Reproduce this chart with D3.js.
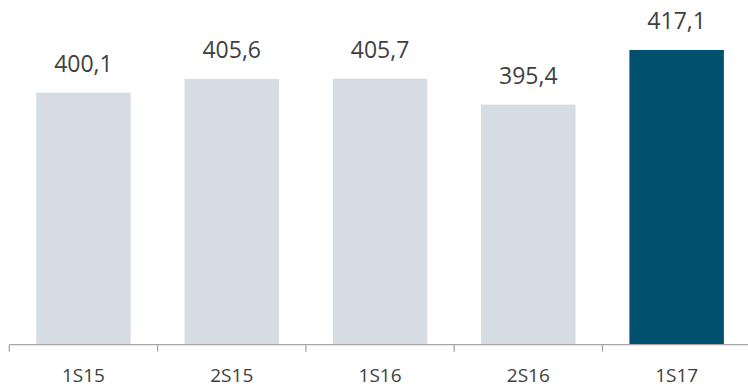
<!DOCTYPE html>
<html>
<head>
<meta charset="utf-8">
<script src="https://cdn.jsdelivr.net/npm/d3@7/dist/d3.min.js"></script>
<style>
  html, body { margin: 0; padding: 0; background: #fff; }
  svg { display: block; }
  text { font-family: "Open Sans", Lato, sans-serif; fill: #404040; }
</style>
</head>
<body>
<svg id="chart" width="748" height="387"></svg>
<script>
// Semester periods and their values
const periods = ["1S15", "2S15", "1S16", "2S16", "1S17"];
const values = [400.1, 405.6, 405.7, 395.4, 417.1];
const highlight = ["1S17"];

const width = 748, height = 387;
const baseY = 344.7;
const svg = d3.select("#chart");

const x = d3.scaleBand()
  .domain(periods)
  .range([9.3, 750.8])
  .paddingInner(0.363)
  .paddingOuter(0.1815);

// Value axis starts at 300 (not zero)
const y = d3.scaleLinear()
  .domain([300, 420])
  .range([baseY, baseY - 120 * 2.517]);

const fmt = v => d3.format(".1f")(v).replace(".", ",");

const data = periods.map((p, i) => ({ p, v: values[i] }));

svg.append("g").selectAll("rect")
  .data(data)
  .join("rect")
  .attr("x", d => x(d.p))
  .attr("width", x.bandwidth())
  .attr("y", d => y(d.v))
  .attr("height", d => baseY - y(d.v))
  .attr("fill", d => highlight.includes(d.p) ? "#00506E" : "#D6DCE4");

svg.append("g").selectAll("text")
  .data(data)
  .join("text")
  .attr("x", d => x(d.p) + x.bandwidth() / 2)
  .attr("y", d => y(d.v) - 20.5)
  .attr("text-anchor", "middle")
  .style("font-size", "23px")
  .text(d => fmt(d.v));

// Category axis with tick marks at the band boundaries
const axisG = svg.append("g");
axisG.append("line")
  .attr("x1", x.range()[0]).attr("x2", width)
  .attr("y1", baseY).attr("y2", baseY)
  .attr("stroke", "#A6A6A6").attr("stroke-width", 1.3);

const step = x.step();
const bounds = d3.range(periods.length + 1).map(i => x.range()[0] + i * step);
axisG.selectAll("line.tick")
  .data(bounds)
  .join("line")
  .attr("class", "tick")
  .attr("x1", d => d).attr("x2", d => d)
  .attr("y1", baseY).attr("y2", baseY + 7)
  .attr("stroke", "#A6A6A6").attr("stroke-width", 1.3);

axisG.selectAll("text")
  .data(periods)
  .join("text")
  .attr("x", d => x(d) + x.bandwidth() / 2)
  .attr("y", 381.5)
  .attr("text-anchor", "middle")
  .style("font-size", "19px")
  .text(d => d);
</script>
</body>
</html>
